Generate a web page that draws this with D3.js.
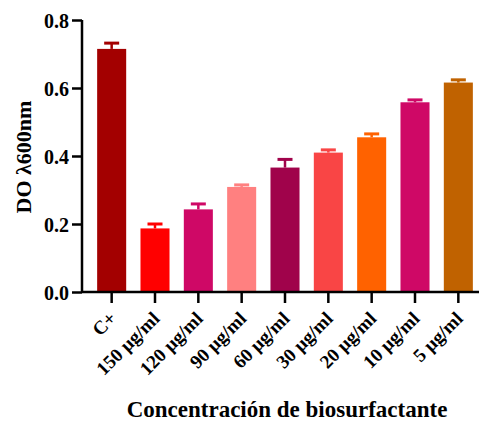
<!DOCTYPE html>
<html><head><meta charset="utf-8">
<script src="https://cdn.jsdelivr.net/npm/d3@7"></script>
<style>body{margin:0;background:#fff}svg{display:block}text{font-family:"Liberation Serif","Times New Roman",serif;font-weight:bold;fill:#000}</style>
</head><body>
<svg id="c" width="481" height="423"></svg>
<script>
const categories = ["C+","150 µg/ml","120 µg/ml","90 µg/ml","60 µg/ml","30 µg/ml","20 µg/ml","10 µg/ml","5 µg/ml"];
const values = [0.715,0.187,0.243,0.309,0.366,0.410,0.455,0.558,0.616];
const errors = [0.017,0.013,0.016,0.006,0.024,0.008,0.010,0.007,0.008];
const colors = ["#a30000","#ff0000","#cf0866","#ff8080","#a0034b","#f94545","#ff6200","#cf0866","#c06200"];
const yTicks = [0.0,0.2,0.4,0.6,0.8];

const FONT = '"Liberation Serif","Times New Roman",serif';
const svg = d3.select("#c");
const y = d3.scaleLinear().domain([0,0.8]).range([292,20]);
const x = d3.scaleBand().domain(categories).range([90,480]).paddingInner(0.33).paddingOuter(0.165);

// bars
svg.selectAll("rect.bar").data(values).enter().append("rect")
  .attr("x",(d,i)=>x(categories[i]))
  .attr("width",x.bandwidth())
  .attr("y",d=>y(d))
  .attr("height",d=>y(0)-y(d))
  .attr("fill",(d,i)=>colors[i]);

// error bars
const eg = svg.selectAll("g.err").data(values).enter().append("g");
eg.append("line")
  .attr("x1",(d,i)=>x(categories[i])+x.bandwidth()/2)
  .attr("x2",(d,i)=>x(categories[i])+x.bandwidth()/2)
  .attr("y1",d=>y(d))
  .attr("y2",(d,i)=>y(d+errors[i]))
  .attr("stroke",(d,i)=>colors[i]).attr("stroke-width",2.5);
eg.append("line")
  .attr("x1",(d,i)=>x(categories[i])+x.bandwidth()/2-7.5)
  .attr("x2",(d,i)=>x(categories[i])+x.bandwidth()/2+7.5)
  .attr("y1",(d,i)=>y(d+errors[i]))
  .attr("y2",(d,i)=>y(d+errors[i]))
  .attr("stroke",(d,i)=>colors[i]).attr("stroke-width",3);

// y axis
const ya = svg.append("g").attr("transform","translate(82,0)")
  .call(d3.axisLeft(y).tickValues(yTicks).tickFormat(d3.format(".1f")).tickSize(10).tickPadding(3));
ya.attr("font-family",FONT);
ya.select(".domain").attr("stroke","#000").attr("stroke-width",2.5).attr("d","M0,20V292");
ya.selectAll(".tick line").attr("stroke","#000").attr("stroke-width",2.5);
ya.selectAll(".tick text").style("font-family",FONT).style("font-size","20px").attr("dy","0.35em");

// x axis
const xa = svg.append("g").attr("transform","translate(0,292)")
  .call(d3.axisBottom(x).tickSize(11).tickPadding(6));
xa.attr("font-family",FONT);
xa.select(".domain").attr("stroke","#000").attr("stroke-width",2.5).attr("d","M82,0H479");
xa.selectAll(".tick line").attr("stroke","#000").attr("stroke-width",2.5);
xa.selectAll(".tick text").style("font-family",FONT).style("font-size","19px")
  .attr("text-anchor","end").attr("dy","0.35em")
  .attr("transform","translate(1,23) rotate(-45)")
  .attr("x",0).attr("y",0);

// axis titles
svg.append("text").attr("transform","translate(31,157) rotate(-90)")
  .style("font-family",FONT)
  .attr("text-anchor","middle").style("font-size","22px").text("DO λ600nm");
svg.append("text").attr("x",287).attr("y",417)
  .style("font-family",FONT)
  .attr("text-anchor","middle").style("font-size","23px").text("Concentración de biosurfactante");
</script>
</body></html>
